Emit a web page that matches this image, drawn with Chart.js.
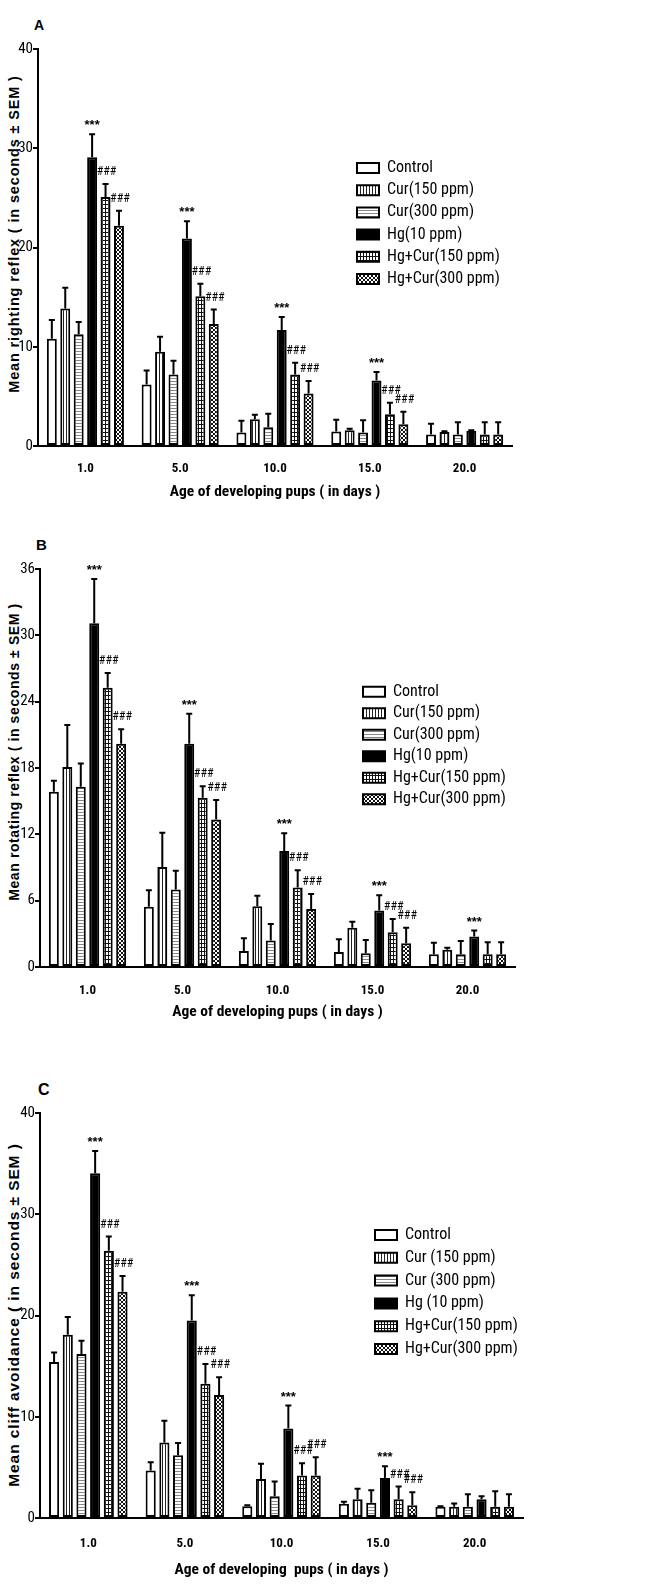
<!DOCTYPE html>
<html>
<head>
<meta charset="utf-8">
<script src="https://cdn.jsdelivr.net/npm/chart.js@4.4.0/dist/chart.umd.min.js"></script>
<style>
html,body{margin:0;padding:0;background:#fff;}
body{width:669px;height:1595px;position:relative;overflow:hidden;}
.panel{position:absolute;left:0;}
.letter{position:absolute;font-weight:bold;font-family:'Liberation Sans',Arial,sans-serif;color:#000;line-height:1;}
.ytitle{position:absolute;width:420px;height:22px;line-height:22px;text-align:center;font-weight:bold;font-family:'Liberation Sans',Arial,sans-serif;color:#000;transform:rotate(-90deg);white-space:nowrap;}
</style>
</head>
<body>
<div class="letter" style="left:34px;top:18px;font-size:14px">A</div>
<div class="letter" style="left:36px;top:537px;font-size:15px">B</div>
<div class="letter" style="left:38px;top:1082px;font-size:16px">C</div>

<div class="ytitle" style="left:-196.5px;top:223px;font-size:14.5px;letter-spacing:0.85px">Mean righting reflex ( in seconds ± SEM )</div>
<div class="ytitle" style="left:-196px;top:741px;font-size:14px;letter-spacing:0.6px">Mean rotating reflex ( in seconds ± SEM )</div>
<div class="ytitle" style="left:-196px;top:1304px;font-size:15.5px;letter-spacing:0.9px">Mean cliff avoidance ( in seconds ± SEM )</div>

<div class="panel" style="top:0px"><canvas id="chartA" width="669" height="510"></canvas></div>
<div class="panel" style="top:515px"><canvas id="chartB" width="669" height="510"></canvas></div>
<div class="panel" style="top:1060px"><canvas id="chartC" width="669" height="535"></canvas></div>

<script>
// ---------------- DATA ----------------
const categories = ['1.0', '5.0', '10.0', '15.0', '20.0'];
const xAxisTitleA = 'Age of developing pups ( in days )';
const xAxisTitleB = 'Age of developing pups ( in days )';
const xAxisTitleC = 'Age of developing  pups ( in days )';

const seriesLabelsAB = ['Control', 'Cur(150 ppm)', 'Cur(300 ppm)', 'Hg(10 ppm)', 'Hg+Cur(150 ppm)', 'Hg+Cur(300 ppm)'];
const seriesLabelsC = ['Control', 'Cur (150 ppm)', 'Cur (300 ppm)', 'Hg (10 ppm)', 'Hg+Cur(150 ppm)', 'Hg+Cur(300 ppm)'];

const yTicksA = [0, 10, 20, 30, 40];
const yTicksB = [0, 6, 12, 18, 24, 30, 36];
const yTicksC = [0, 10, 20, 30, 40];

// Panel A: righting reflex (mean, SEM)
const rightingControl     = [10.8, 6.2, 1.35, 1.45, 1.15];
const rightingControlSem  = [1.9, 1.4, 1.2, 1.2, 1.1];
const rightingCur150      = [13.85, 9.5, 2.7, 1.58, 1.4];
const rightingCur150Sem   = [2.1, 1.5, 0.45, 0.17, 0.08];
const rightingCur300      = [11.25, 7.2, 1.9, 1.35, 1.15];
const rightingCur300Sem   = [1.25, 1.4, 1.35, 1.25, 1.25];
const rightingHg          = [29.1, 20.9, 11.7, 6.6, 1.5];
const rightingHgSem       = [2.3, 1.75, 1.3, 0.85, 0.08];
const rightingHgCur150    = [25.1, 15.1, 7.2, 3.2, 1.15];
const rightingHgCur150Sem = [1.3, 1.25, 1.2, 1.15, 1.25];
const rightingHgCur300    = [22.2, 12.3, 5.3, 2.2, 1.15];
const rightingHgCur300Sem = [1.5, 1.45, 1.25, 1.25, 1.25];
const rightingHgSig       = ['***', '***', '***', '***', ''];
const rightingHgCur150Sig = ['###', '###', '###', '###', ''];
const rightingHgCur300Sig = ['###', '###', '###', '###', ''];

// Panel B: rotating reflex (mean, SEM)
const rotatingControl     = [15.85, 5.45, 1.45, 1.35, 1.15];
const rotatingControlSem  = [1.0, 1.5, 1.15, 1.15, 1.05];
const rotatingCur150      = [18.1, 9.05, 5.5, 3.55, 1.55];
const rotatingCur150Sem   = [3.8, 3.1, 0.95, 0.55, 0.2];
const rotatingCur300      = [16.3, 7.0, 2.4, 1.25, 1.15];
const rotatingCur300Sem   = [2.1, 1.7, 1.5, 1.2, 1.2];
const rotatingHg          = [31.1, 20.2, 10.5, 5.1, 2.75];
const rotatingHgSem       = [4.0, 2.7, 1.6, 1.4, 0.55];
const rotatingHgCur150    = [25.25, 15.3, 7.2, 3.15, 1.15];
const rotatingHgCur150Sem = [1.35, 1.05, 1.55, 1.2, 1.1];
const rotatingHgCur300    = [20.2, 13.35, 5.25, 2.15, 1.15];
const rotatingHgCur300Sem = [1.3, 1.75, 1.35, 1.4, 1.1];
const rotatingHgSig       = ['***', '***', '***', '***', '***'];
const rotatingHgCur150Sig = ['###', '###', '###', '###', ''];
const rotatingHgCur300Sig = ['###', '###', '###', '###', ''];

// Panel C: cliff avoidance (mean, SEM)
const cliffControl     = [15.4, 4.7, 1.15, 1.4, 1.1];
const cliffControlSem  = [0.95, 0.8, 0.1, 0.2, 0.06];
const cliffCur150      = [18.1, 7.45, 3.85, 1.85, 1.1];
const cliffCur150Sem   = [1.75, 2.15, 1.5, 1.05, 0.32];
const cliffCur300      = [16.2, 6.2, 2.15, 1.5, 1.1];
const cliffCur300Sem   = [1.3, 1.2, 1.45, 1.25, 1.25];
const cliffHg          = [34.05, 19.5, 8.85, 3.95, 1.85];
const cliffHgSem       = [2.2, 2.5, 2.25, 1.15, 0.3];
const cliffHgCur150    = [26.4, 13.25, 4.2, 1.85, 1.1];
const cliffHgCur150Sem = [1.4, 1.95, 1.2, 1.25, 1.55];
const cliffHgCur300    = [22.35, 12.15, 4.2, 1.25, 1.1];
const cliffHgCur300Sem = [1.55, 1.75, 1.8, 1.3, 1.25];
const cliffHgSig       = ['***', '***', '***', '***', ''];
const cliffHgCur150Sig = ['###', '###', '###', '###', ''];
const cliffHgCur300Sig = ['###', '###', '###', '###', ''];

// ---------------- STYLE ----------------
const NARROW = "'Roboto Condensed', 'DejaVu Sans Condensed', sans-serif";
const REG = "'Liberation Sans', Arial, sans-serif";

function makePattern(w, h, painter) {
  const c = document.createElement('canvas');
  c.width = w; c.height = h;
  const g = c.getContext('2d');
  g.fillStyle = '#fff'; g.fillRect(0, 0, w, h);
  painter(g);
  return document.createElement('canvas').getContext('2d').createPattern(c, 'repeat');
}
const fills = [
  '#ffffff',
  makePattern(3, 3, g => { g.fillStyle = '#222'; g.fillRect(0, 0, 1, 3); }),
  makePattern(3, 3, g => { g.fillStyle = '#888'; g.fillRect(0, 0, 3, 1); }),
  '#000000',
  makePattern(3, 4, g => { g.fillStyle = '#111'; g.fillRect(0, 0, 1, 4); g.fillRect(0, 0, 3, 1); }),
  makePattern(4, 4, g => {
    g.fillStyle = '#111';
    for (let i = 0; i < 4; i++) { g.fillRect(i, i, 1, 1); g.fillRect(3 - i, i, 1, 1); }
  })
];

// error bars + significance marks, drawn from each bar's element & the y scale
const errorBarPlugin = {
  id: 'errorBars',
  afterDatasetsDraw(chart) {
    const ctx = chart.ctx;
    const y = chart.scales.y;
    chart.data.datasets.forEach((ds, i) => {
      const meta = chart.getDatasetMeta(i);
      meta.data.forEach((bar, j) => {
        const top = y.getPixelForValue(ds.data[j] + ds.sem[j]);
        ctx.save();
        ctx.strokeStyle = '#000';
        ctx.lineWidth = 2;
        ctx.beginPath();
        ctx.moveTo(bar.x, bar.y);
        ctx.lineTo(bar.x, top);
        ctx.moveTo(bar.x - 3, top);
        ctx.lineTo(bar.x + 3, top);
        ctx.stroke();
        const mark = ds.sig ? ds.sig[j] : '';
        if (mark) {
          ctx.fillStyle = '#000';
          ctx.textAlign = 'center';
          ctx.textBaseline = 'alphabetic';
          if (mark[0] === '*') {
            ctx.font = 'bold 13px ' + REG;
            ctx.fillText(mark, bar.x, top - 5);
          } else {
            ctx.font = '12px ' + NARROW;
            ctx.fillText(mark, bar.x + 1, top - 9);
          }
        }
        ctx.restore();
      });
    });
  }
};

// move the library legend to its place inside the plot
const legendPlacer = {
  id: 'legendPlacer',
  afterLayout(chart, args, opts) {
    const lg = chart.legend;
    if (!lg) return;
    const pad = chart.options.plugins.legend.labels.padding;
    const fs = chart.options.plugins.legend.labels.font.size;
    lg.left = opts.x - pad;
    lg.top = opts.y - pad - fs / 2;
    lg.width = 300; lg.height = 300;
    lg.right = lg.left + 300; lg.bottom = lg.top + 300;
  }
};

function buildDatasets(labels, values, sems, sigs) {
  return labels.map((lab, k) => ({
    label: lab,
    data: values[k],
    sem: sems[k],
    sig: sigs[k],
    backgroundColor: fills[k],
    borderColor: '#000',
    borderWidth: 2,
    borderSkipped: false,
    categoryPercentage: 0.85,
    barPercentage: 0.74
  }));
}

function makeChart(id, datasets, yTicks, xTitle, L) {
  return new Chart(document.getElementById(id), {
    type: 'bar',
    data: { labels: categories, datasets: datasets },
    plugins: [errorBarPlugin, legendPlacer],
    options: {
      responsive: false,
      animation: false,
      devicePixelRatio: 1,
      events: [],
      layout: { padding: { left: 0, top: L.top, right: L.right, bottom: 0 } },
      plugins: {
        tooltip: { enabled: false },
        title: { display: false },
        legend: {
          display: true,
          position: 'chartArea',
          align: 'start',
          labels: {
            boxWidth: 22, boxHeight: 10, padding: L.legPad,
            color: '#000',
            font: { family: NARROW, size: 16 }
          }
        },
        legendPlacer: { x: L.legX, y: L.legY }
      },
      scales: {
        x: {
          type: 'category',
          offset: true,
          grid: { display: false },
          border: { display: true, color: '#000', width: 2 },
          ticks: { color: '#000', padding: L.tickPad, font: { family: NARROW, size: 13, weight: 'bold' }, maxRotation: 0 },
          title: { display: true, text: xTitle, color: '#000', font: { family: NARROW, size: 15.5, weight: 'bold' }, padding: { top: 0, bottom: L.titlePad } },
          afterFit(s) { s.height = L.xh; }
        },
        y: {
          min: yTicks[0],
          max: yTicks[yTicks.length - 1],
          afterBuildTicks(s) { s.ticks = yTicks.map(v => ({ value: v })); },
          grid: { display: true, drawOnChartArea: false, drawTicks: true, tickLength: 5, color: '#000', lineWidth: 2 },
          border: { display: true, color: '#000', width: 2 },
          ticks: { color: '#000', padding: 0, font: { family: NARROW, size: 15 } },
          afterFit(s) { s.width = L.left; }
        }
      }
    }
  });
}

makeChart('chartA',
  buildDatasets(seriesLabelsAB,
    [rightingControl, rightingCur150, rightingCur300, rightingHg, rightingHgCur150, rightingHgCur300],
    [rightingControlSem, rightingCur150Sem, rightingCur300Sem, rightingHgSem, rightingHgCur150Sem, rightingHgCur300Sem],
    [null, null, null, rightingHgSig, rightingHgCur150Sig, rightingHgCur300Sig]),
  yTicksA, xAxisTitleA,
  { left: 38, right: 157, top: 49, xh: 64, tickPad: 6.5, titlePad: 8.4, legX: 357, legY: 168, legPad: 6.2 });

makeChart('chartB',
  buildDatasets(seriesLabelsAB,
    [rotatingControl, rotatingCur150, rotatingCur300, rotatingHg, rotatingHgCur150, rotatingHgCur300],
    [rotatingControlSem, rotatingCur150Sem, rotatingCur300Sem, rotatingHgSem, rotatingHgCur150Sem, rotatingHgCur300Sem],
    [null, null, null, rotatingHgSig, rotatingHgCur150Sig, rotatingHgCur300Sig]),
  yTicksB, xAxisTitleB,
  { left: 40, right: 154, top: 54, xh: 58, tickPad: 7.5, titlePad: 3.4, legX: 363, legY: 176.7, legPad: 5.5 });

makeChart('chartC',
  buildDatasets(seriesLabelsC,
    [cliffControl, cliffCur150, cliffCur300, cliffHg, cliffHgCur150, cliffHgCur300],
    [cliffControlSem, cliffCur150Sem, cliffCur300Sem, cliffHgSem, cliffHgCur150Sem, cliffHgCur300Sem],
    [null, null, null, cliffHgSig, cliffHgCur150Sig, cliffHgCur300Sig]),
  yTicksC, xAxisTitleC,
  { left: 40, right: 146, top: 53, xh: 77, tickPad: 9.5, titlePad: 15.4, legX: 375, legY: 175, legPad: 6.8 });
</script>
</body>
</html>
